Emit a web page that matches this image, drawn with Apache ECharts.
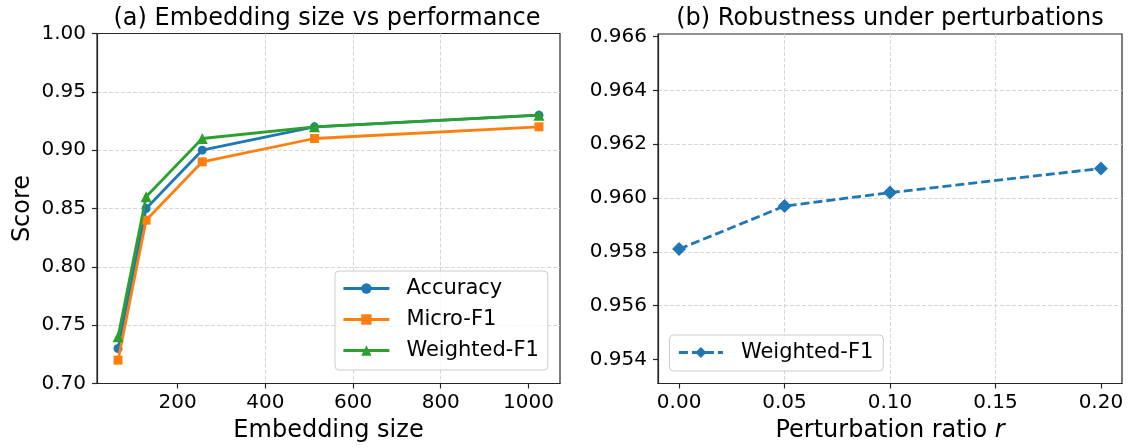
<!DOCTYPE html>
<html>
<head>
<meta charset="utf-8">
<script src="https://cdn.jsdelivr.net/npm/echarts@6/dist/echarts.min.js"></script>
<style>
  html, body { margin: 0; padding: 0; background: #ffffff; }
  #chart { width: 1138px; height: 448px; }
</style>
</head>
<body>
<div id="chart"></div>
<script>
// (a) embedding size sweep
const embedSizes = [64, 128, 256, 512, 1024];
const accuracy   = [0.73, 0.85, 0.90, 0.92, 0.93];
const microF1    = [0.72, 0.84, 0.89, 0.91, 0.92];
const weightedF1 = [0.74, 0.86, 0.91, 0.92, 0.93];
const sizeTicks  = [200, 400, 600, 800, 1000];

// (b) robustness under perturbation
const ratios      = [0.00, 0.05, 0.10, 0.20];
const robustF1    = [0.9581, 0.9597, 0.9602, 0.9611];
const ratioTicks  = [0.00, 0.05, 0.10, 0.15, 0.20];
const robustTicks = [0.954, 0.956, 0.958, 0.960, 0.962, 0.964, 0.966];

const FONT = 'DejaVu Sans';
const AXIS_COLOR = '#262626';
const GRID_COLOR = '#d6d6d6';
const BLUE = '#1f77b4', ORANGE = '#ff7f0e', GREEN = '#2ca02c';

const pairs = (xs, ys) => xs.map((x, i) => [x, ys[i]]);

const splitLine = { show: true, showMinLine: false, showMaxLine: false, lineStyle: { color: GRID_COLOR, type: [4, 2], width: 1 } };
const axisLine = { show: true, onZero: false, lineStyle: { color: AXIS_COLOR, width: 1.2 } };
const axisTick = { show: true, inside: false, length: 5, lineStyle: { color: AXIS_COLOR, width: 1.2 } };
const labelBase = { color: '#000', fontFamily: FONT, fontSize: 20 };
const nameStyle = { color: '#000', fontFamily: FONT, fontSize: 24 };
const legendBox = {
  orient: 'vertical',
  backgroundColor: 'rgba(255,255,255,0.8)',
  borderColor: '#cccccc', borderWidth: 1, borderRadius: 4,
  lineStyle: { width: 2.8 }
};

const chart = echarts.init(document.getElementById('chart'), null, { renderer: 'canvas' });

chart.setOption({
  backgroundColor: '#ffffff',
  animation: false,
  title: [
    {
      text: '(a) Embedding size vs performance',
      left: 327, top: 7, textAlign: 'center', padding: 0,
      textStyle: { fontFamily: FONT, fontSize: 24, fontWeight: 'normal', color: '#000' }
    },
    {
      text: '(b) Robustness under perturbations',
      left: 890, top: 7, textAlign: 'center', padding: 0,
      textStyle: { fontFamily: FONT, fontSize: 24, fontWeight: 'normal', color: '#000' }
    }
  ],
  grid: [
    { left: 97, top: 33.5, width: 463, height: 350, show: true, borderColor: AXIS_COLOR, borderWidth: 1.2, backgroundColor: 'transparent' },
    { left: 658, top: 34, width: 464, height: 349.5, show: true, borderColor: AXIS_COLOR, borderWidth: 1.2, backgroundColor: 'transparent' }
  ],
  legend: [
    Object.assign({}, legendBox, {
      data: ['Accuracy', 'Micro-F1', 'Weighted-F1'],
      left: 335, top: 271,
      itemWidth: 46, itemHeight: 13, itemGap: 10,
      padding: [7, 9, 9, 7],
      textStyle: { fontFamily: FONT, fontSize: 21, color: '#000', padding: [0, 0, 0, 12] }
    }),
    Object.assign({}, legendBox, {
      data: ['Weighted-F1 '],
      formatter: (n) => n.trim(),
      left: 669.5, top: 335,
      itemWidth: 44, itemHeight: 14, itemGap: 7,
      padding: [7, 10, 8, 8],
      textStyle: { fontFamily: FONT, fontSize: 21, color: '#000', padding: [0, 0, 0, 13] }
    })
  ],
  xAxis: [
    {
      gridIndex: 0, type: 'value', min: 16, max: 1072,
      name: 'Embedding size', nameLocation: 'middle', nameGap: 35, nameTextStyle: nameStyle,
      axisLine, splitLine,
      axisTick: Object.assign({}, axisTick, { customValues: sizeTicks }),
      axisLabel: Object.assign({}, labelBase, { margin: 9, customValues: sizeTicks, formatter: (v) => String(v) })
    },
    {
      gridIndex: 1, type: 'value', min: -0.01, max: 0.21,
      name: 'Perturbation ratio {i|r}', nameLocation: 'middle', nameGap: 35,
      nameTextStyle: Object.assign({}, nameStyle, { rich: { i: { fontFamily: FONT, fontSize: 24, fontStyle: 'italic', color: '#000' } } }),
      axisLine, splitLine,
      axisTick: Object.assign({}, axisTick, { customValues: ratioTicks }),
      axisLabel: Object.assign({}, labelBase, { margin: 9, customValues: ratioTicks, formatter: (v) => v.toFixed(2) })
    }
  ],
  yAxis: [
    {
      gridIndex: 0, type: 'value', min: 0.70, max: 1.00, interval: 0.05,
      name: 'Score', nameLocation: 'middle', nameGap: 62, nameTextStyle: nameStyle,
      axisLine, axisTick, splitLine,
      axisLabel: Object.assign({}, labelBase, { margin: 11, formatter: (v) => v.toFixed(2) })
    },
    {
      gridIndex: 1, type: 'value', min: 0.9531, max: 0.9661,
      axisLine, splitLine,
      axisTick: Object.assign({}, axisTick, { customValues: robustTicks }),
      axisLabel: Object.assign({}, labelBase, { margin: 11, customValues: robustTicks, formatter: (v) => v.toFixed(3) })
    }
  ],
  series: [
    {
      name: 'Accuracy', type: 'line', xAxisIndex: 0, yAxisIndex: 0,
      data: pairs(embedSizes, accuracy),
      symbol: 'circle', symbolSize: 9,
      lineStyle: { color: BLUE, width: 2.8 }, itemStyle: { color: BLUE },
      z: 3
    },
    {
      name: 'Micro-F1', type: 'line', xAxisIndex: 0, yAxisIndex: 0,
      data: pairs(embedSizes, microF1),
      symbol: 'rect', symbolSize: 9,
      lineStyle: { color: ORANGE, width: 2.8 }, itemStyle: { color: ORANGE },
      z: 4
    },
    {
      name: 'Weighted-F1', type: 'line', xAxisIndex: 0, yAxisIndex: 0,
      data: pairs(embedSizes, weightedF1),
      symbol: 'triangle', symbolSize: 11,
      lineStyle: { color: GREEN, width: 2.8 }, itemStyle: { color: GREEN },
      z: 5
    },
    {
      name: 'Weighted-F1 ', type: 'line', xAxisIndex: 1, yAxisIndex: 1,
      data: pairs(ratios, robustF1),
      symbol: 'diamond', symbolSize: 14,
      lineStyle: { color: BLUE, width: 2.8, type: [9, 4] }, itemStyle: { color: BLUE },
      z: 3
    }
  ]
});
</script>
</body>
</html>
